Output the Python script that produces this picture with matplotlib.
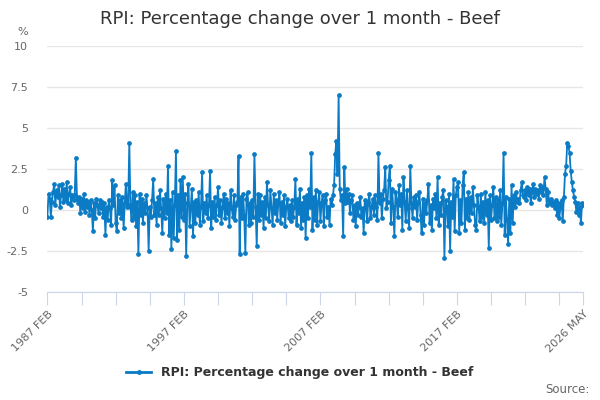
import matplotlib
matplotlib.use('Agg')
import matplotlib.pyplot as plt
from matplotlib.lines import Line2D

# monthly values, 1987 Feb .. 2026 May
y1987 = [-0.4, 1.0, 0.7, -0.4, 0.5, 1.1, 1.6, 0.3, 1.2, 0.8, 1.5]
y1988 = [0.2, 0.9, 1.6, 0.5, 1.3, 0.6, 1.7, 0.4, 1.0, 1.4, 0.3, 0.9]
y1989 = [0.6, 0.9, 3.2, 0.7, 0.4, 0.8, -0.2, 0.7, 0.1, 1.0, -0.1, 0.6]
y1990 = [0.2, 0.5, -0.3, 0.6, 0.0, -1.3, 0.4, -0.5, 0.7, 0.3, -0.2, 0.6]
y1991 = [0.1, 0.5, -0.4, 0.4, -1.5, 0.2, -0.6, 0.6, 0.1, -0.9, 1.8, 0.3]
y1992 = [1.5, -0.8, -1.3, 0.9, -0.2, 0.6, -0.5, 0.8, -1.1, 0.4, 1.6, 0.2]
y1993 = [0.3, 4.1, 0.2, -0.6, 1.1, -0.4, 0.9, -1.0, 0.5, -2.7, 1.0, -0.3]
y1994 = [0.7, -0.8, 0.4, -0.2, 0.9, 0.1, -2.5, 0.2, -0.4, 0.6, 1.9, -0.3]
y1995 = [0.4, -0.9, 0.8, -0.3, 1.2, 0.1, -1.4, 0.7, -0.5, 1.0, -0.2, 2.7]
y1996 = [-1.5, 0.6, -2.4, 1.1, -1.7, 0.3, 3.6, -1.8, 0.9, -1.2, 1.8, -0.4]
y1997 = [2.0, -0.6, 1.0, -2.8, 0.4, 1.6, -1.0, 0.2, 1.3, -1.6, 0.5, -0.8]
y1998 = [0.6, -0.3, 1.1, -0.9, 0.2, 2.3, -0.7, 0.4, -0.2, 0.9, -0.5, 0.3]
y1999 = [2.4, -1.1, 0.5, -0.4, 0.8, -0.6, 0.3, 1.4, -0.3, 0.6, -0.8, 0.2]
y2000 = [1.0, -0.5, 0.7, -0.2, 0.4, -1.0, 1.2, 0.1, -0.4, 0.9, -0.6, 0.3]
y2001 = [0.5, 3.3, -2.7, 0.8, -0.5, 1.0, -0.3, -2.6, 0.7, 1.1, -0.9, 0.4]
y2002 = [-0.8, 0.6, -0.4, 3.4, 0.2, -2.2, 1.0, -0.6, 0.9, -0.3, 0.5, -1.1]
y2003 = [0.8, -0.5, 1.7, 0.3, -0.7, 1.2, 0.1, -0.9, 1.0, -0.2, 0.6, -0.6]
y2004 = [0.4, 1.1, -0.8, 0.5, -0.3, 0.9, -1.0, 0.2, 0.7, -0.5, 0.3, -0.7]
y2005 = [0.6, -0.4, 0.2, 1.9, -0.9, 0.7, -0.2, 1.3, -1.1, 0.4, -0.6, 0.8]
y2006 = [-1.7, 0.9, -0.5, 1.3, 0.2, 3.5, -1.2, 0.8, -0.6, 1.2, -0.9, 0.5]
y2007 = [1.1, -0.7, 0.4, 0.9, -1.0, 0.6, 1.0, -0.4, 0.2, -0.9, 0.7, 0.3]
y2008 = [0.9, 1.5, 3.4, 4.2, 2.2, 7.0, 1.3, 0.6, 0.9, -1.6, 2.6, 0.4]
y2009 = [1.3, 0.5, 1.0, -0.2, 0.6, 0.9, -0.6, 0.3, -1.0, 0.4, -0.3, 0.2]
y2010 = [0.8, -0.4, 0.1, -1.4, 0.6, 0.3, -0.7, 0.5, 1.0, -0.5, 0.2, 0.7]
y2011 = [-0.3, 0.9, 0.2, -0.6, 3.5, 0.4, 1.0, -0.5, 0.7, 1.2, 2.6, 0.1]
y2012 = [0.5, 1.8, 2.7, -0.8, 1.3, 0.2, -1.6, 1.1, 0.6, -0.4, 1.5, 0.3]
y2013 = [1.0, -1.2, 2.0, 0.5, -0.7, 1.2, 0.1, -1.1, 2.7, 0.4, -0.5, 0.8]
y2014 = [0.2, 0.9, -0.6, 0.5, 1.1, -0.3, -1.4, 0.7, -0.9, 0.4, -0.2, 0.6]
y2015 = [1.6, -0.8, 0.3, -1.2, 0.7, 0.1, 1.0, -0.5, 2.0, -0.9, 0.4, -0.3]
y2016 = [0.8, 1.2, -2.9, 0.6, 0.2, -1.0, 1.0, -2.5, 0.5, -0.4, 1.9, -1.3]
y2017 = [0.9, 1.4, 1.7, -1.4, 0.6, -0.8, 1.5, 2.3, -1.2, 0.7, -0.5, 1.1]
y2018 = [-0.6, 0.8, -0.2, 1.4, 0.3, -0.9, -1.2, 0.9, 0.2, -0.7, 1.0, -0.4]
y2019 = [0.5, -0.8, 1.1, -0.3, 0.6, -2.3, 0.9, -0.6, 0.3, 1.4, -0.5, 0.8]
y2020 = [-0.7, 0.6, -0.4, 1.2, -0.9, 0.4, 3.5, -1.5, 0.8, -0.6, -2.1, 0.7]
y2021 = [-1.4, 1.5, -0.8, 0.9, 0.2, 1.1, 0.5, 0.7, 0.4, 1.2, 1.7, 0.9]
y2022 = [0.8, 1.2, 0.6, 1.4, 0.9, 1.3, 0.4, 1.1, 1.6, 0.8, 1.3, 1.0]
y2023 = [1.2, 0.7, 1.5, 1.1, 1.4, 0.9, 2.0, 1.3, 0.3, 1.1, 0.6, 0.4]
y2024 = [0.7, 0.3, 0.5, 0.1, 0.6, -0.3, 0.4, -0.5, 0.2, 0.6, -0.7, 0.8]
y2025 = [2.2, 2.7, 4.1, 3.9, 3.5, 2.4, 1.7, 1.2, 0.8, 0.5, -0.1, 0.4]
y2026 = [-0.3, 0.2, -0.8, 0.4, 0.3]

values = (y1987 + y1988 + y1989 + y1990 + y1991 + y1992 + y1993 + y1994 + y1995
          + y1996 + y1997 + y1998 + y1999 + y2000 + y2001 + y2002 + y2003 + y2004
          + y2005 + y2006 + y2007 + y2008 + y2009 + y2010 + y2011 + y2012 + y2013
          + y2014 + y2015 + y2016 + y2017 + y2018 + y2019 + y2020 + y2021 + y2022
          + y2023 + y2024 + y2025 + y2026)

tick_pos = [0, 30, 60, 90, 120, 150, 180, 210, 240, 270, 300, 330, 360, 390, 420, 450, 471]
tick_lab = ['1987 FEB', '', '', '', '1997 FEB', '', '', '', '2007 FEB', '', '', '',
            '2017 FEB', '', '', '', '2026 MAY']
y_ticks = [-5, -2.5, 0, 2.5, 5, 7.5, 10]
y_labels = ['-5', '-2.5', '0', '2.5', '5', '7.5', '10']

title = 'RPI: Percentage change over 1 month - Beef'
blue = '#0a7bc4'

plt.rcParams['font.family'] = 'DejaVu Sans'
fig = plt.figure(figsize=(6, 4), dpi=100)
ax = fig.add_axes([0.079, 0.27, 0.893, 0.615])

x = list(range(len(values)))
ax.plot(x, values, color=blue, lw=1.3, marker='o', ms=2.4, mec=blue, mfc=blue, zorder=3)

ax.set_xlim(0, len(values) - 1)
ax.set_ylim(-5, 10)
ax.set_yticks(y_ticks)
ax.set_yticklabels(y_labels)
ax.set_xticks(tick_pos)
ax.set_xticklabels(tick_lab, rotation=45, ha='right', rotation_mode='anchor')

ax.grid(axis='y', color='#e6e6e6', lw=1)
ax.set_axisbelow(True)
for s in ['top', 'right', 'left']:
    ax.spines[s].set_visible(False)
ax.spines['bottom'].set_color('#ccd6eb')
ax.tick_params(axis='y', length=0, labelsize=8, labelcolor='#666666', pad=14)
ax.tick_params(axis='x', length=9, color='#ccd6eb', labelsize=8, labelcolor='#666666', pad=3)

fig.text(0.5, 0.953, title, ha='center', va='center', fontsize=13, color='#333333')
fig.text(0.037, 0.92, '%', ha='center', va='center', fontsize=8, color='#666666')

h = Line2D([], [], color=blue, lw=2, marker='o', ms=2.5)
fig.legend([h], [title], loc='center', bbox_to_anchor=(0.5, 0.068), frameon=False,
           prop={'weight': 'bold', 'size': 9}, handlelength=2, labelcolor='#333333')
fig.text(0.983, 0.027, 'Source:', ha='right', va='center', fontsize=8.5, color='#666666')

fig.savefig('out.png', dpi=100, facecolor='white')
